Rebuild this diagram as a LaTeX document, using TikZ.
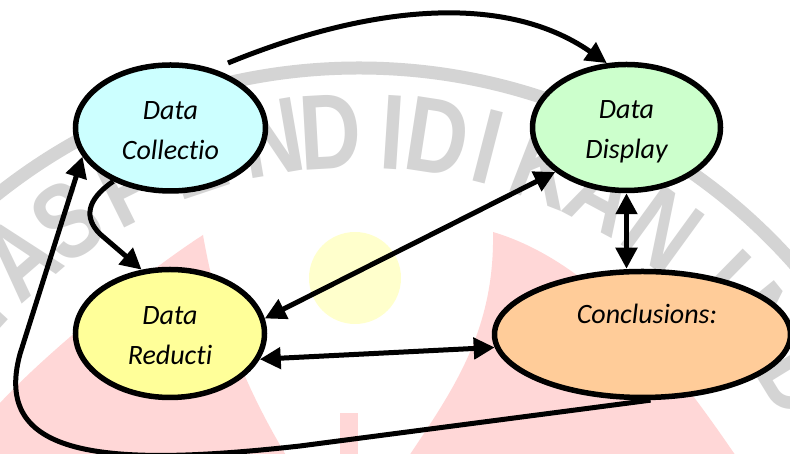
\documentclass[tikz,border=0pt]{standalone}
\usepackage{fontspec}
\setmainfont{Carlito}[Ligatures=NoCommon]
\newfontfamily\wmfont{Liberation Sans Bold}
\usetikzlibrary{arrows.meta,shapes.geometric}
\definecolor{cyanfill}{RGB}{204,255,255}
\definecolor{greenfill}{RGB}{204,255,204}
\definecolor{yellowfill}{RGB}{255,255,153}
\definecolor{orangefill}{RGB}{255,204,153}
\definecolor{wmpink}{RGB}{255,215,215}
\definecolor{wmyellow}{RGB}{255,255,204}
\definecolor{wmgray}{RGB}{212,212,212}
\newcommand\twolines[2]{\rule{0pt}{31pt}#1\\#2\rule[-8pt]{0pt}{8pt}}
\tikzset{
  stage/.style={ellipse, draw=black, line width=5.5pt, inner sep=0pt, align=center,
    font=\fontsize{28}{40}\selectfont\itshape},
  labeltext/.style={inner sep=0pt, font=\fontsize{28}{40}\selectfont\itshape},
  conn/.style={line width=5pt, -{Triangle[length=21pt,width=21pt]}},
  dconn/.style={line width=5pt, {Triangle[length=21pt,width=21pt]}-{Triangle[length=21pt,width=21pt]}},
  wmletter/.style={text=wmgray, inner sep=0pt, font=\wmfont\fontsize{107}{107}\selectfont}
}
\begin{document}
\begin{tikzpicture}[x=1pt,y=1pt]
\useasboundingbox (0,0) rectangle (790,454);
\clip (0,0) rectangle (790,454);
\fill[white] (0,0) rectangle (790,454);
% faint logo in the background
\fill[wmpink] (203,219) .. controls (220,120) and (255,50) .. (290,-8) -- (-10,-8) -- (-10,40) -- (0,51)
  .. controls (50,105) and (150,185) .. (203,219) -- cycle;
\fill[wmpink] (493,222) .. controls (600,190) and (680,80) .. (740,-8) -- (405,-8)
  .. controls (450,60) and (495,120) .. (493,222) -- cycle;
\fill[wmpink] (340,-1) rectangle (358,41);
\fill[wmyellow] (355,176) circle[radius=46];
\draw[wmgray, line width=13pt] (359,-195) circle[radius=581];
\foreach \a/\l [count=\i] in {137.5/T,130.9/A,124.3/S,116.4/P,108.5/E,99.7/N,93.2/D,86.3/I,81.3/D,75.6/I,68.8/K,61.8/A,54/N,45.5/I,39/N,31.5/D}
  \node[wmletter, rotate=\a-90, name=wm\i] at ([shift={(359,-195)}]\a:518pt) {\scalebox{0.8}[1]{\l}};
% stages
\node[stage, fill=cyanfill, minimum width=190pt, minimum height=126pt] (coll) at (170.5,326) {\twolines{Data}{Collectio}};
\node[stage, fill=greenfill, minimum width=188pt, minimum height=126pt] (disp) at (626.5,326.5) {\twolines{Data}{Display}};
\node[stage, fill=yellowfill, minimum width=189pt, minimum height=128pt] (red) at (170,120.5) {\twolines{Data}{Reducti}};
\node[stage, fill=orangefill, minimum width=296pt, minimum height=126pt] (conc) at (642.5,119.5) {};
\node[labeltext, anchor=base] (concT) at (647,130) {Conclusions:};
% connectors
\coordinate (c1s) at (228,391);
\draw[conn] (c1s) .. controls (360,445) and (500,465) .. (disp.107);
\draw[conn] (coll.223) .. controls (86,254) and (84,236) .. (100,220) -- (red.114);
\draw[dconn] (red.9) -- (disp.212);
\draw[dconn] (disp.south) -- (disp.south |- conc.north);
\draw[dconn] (red.-16) -- (conc.185);
\draw[conn] (conc.-83) -- (300,8) .. controls (102,-14) and (-8,-3) .. (20,100) -- (coll.198);
\end{tikzpicture}
\end{document}
